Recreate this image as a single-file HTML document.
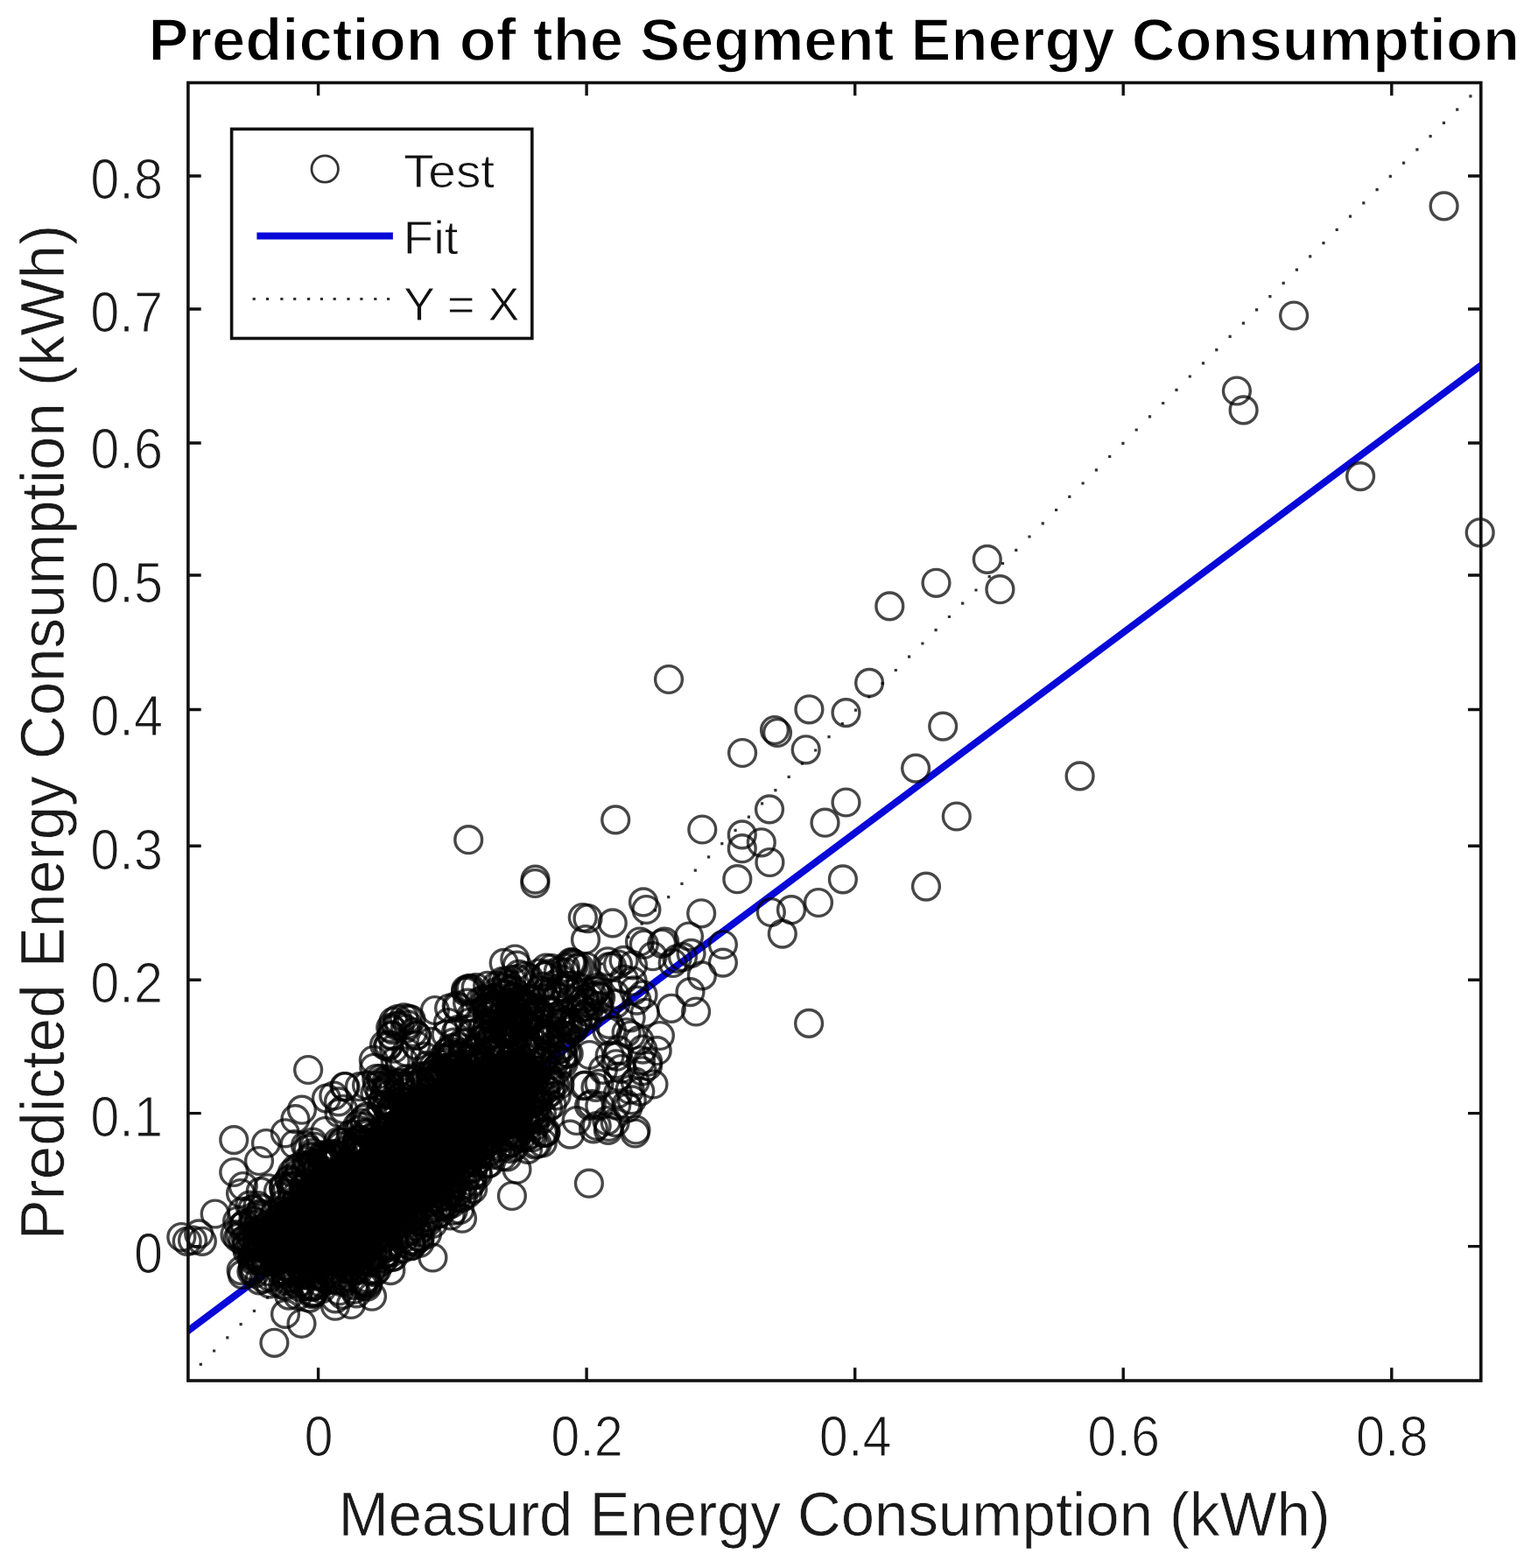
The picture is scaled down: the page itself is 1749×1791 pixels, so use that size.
<!DOCTYPE html>
<html><head><meta charset="utf-8"><title>Prediction of the Segment Energy Consumption</title><style>html,body{margin:0;padding:0;background:#fff;overflow:hidden}svg{display:block}</style></head><body>
<svg width="1749" height="1791" viewBox="0 0 1749 1791">
<rect width="1749" height="1791" fill="#fff"/>
<text x="169.4" y="68.6" font-family="Liberation Sans, Arial, Helvetica, sans-serif" font-weight="bold" font-size="69" fill="#000" stroke="#fff" stroke-width="1.5" textLength="1566.6" lengthAdjust="spacingAndGlyphs">Prediction of the Segment Energy Consumption</text>
<defs><clipPath id="ax"><rect x="214.9" y="94.5" width="1476.9" height="1482.5"/></clipPath></defs>
<g clip-path="url(#ax)">
<path d="M227.7,1556.7h3.2v3.2h-3.2zM243.0,1541.4h3.2v3.2h-3.2zM258.2,1526.2h3.2v3.2h-3.2zM273.5,1511.0h3.2v3.2h-3.2zM288.8,1495.7h3.2v3.2h-3.2zM304.0,1480.5h3.2v3.2h-3.2zM319.3,1465.2h3.2v3.2h-3.2zM334.6,1450.0h3.2v3.2h-3.2zM349.9,1434.7h3.2v3.2h-3.2zM365.1,1419.5h3.2v3.2h-3.2zM380.4,1404.2h3.2v3.2h-3.2zM395.7,1389.0h3.2v3.2h-3.2zM410.9,1373.7h3.2v3.2h-3.2zM426.2,1358.5h3.2v3.2h-3.2zM441.5,1343.2h3.2v3.2h-3.2zM456.7,1328.0h3.2v3.2h-3.2zM472.0,1312.7h3.2v3.2h-3.2zM487.3,1297.5h3.2v3.2h-3.2zM502.6,1282.3h3.2v3.2h-3.2zM517.8,1267.0h3.2v3.2h-3.2zM533.1,1251.8h3.2v3.2h-3.2zM548.4,1236.5h3.2v3.2h-3.2zM563.6,1221.3h3.2v3.2h-3.2zM578.9,1206.0h3.2v3.2h-3.2zM594.2,1190.8h3.2v3.2h-3.2zM609.4,1175.5h3.2v3.2h-3.2zM624.7,1160.3h3.2v3.2h-3.2zM640.0,1145.0h3.2v3.2h-3.2zM655.3,1129.8h3.2v3.2h-3.2zM670.5,1114.5h3.2v3.2h-3.2zM685.8,1099.3h3.2v3.2h-3.2zM701.1,1084.0h3.2v3.2h-3.2zM716.3,1068.8h3.2v3.2h-3.2zM731.6,1053.6h3.2v3.2h-3.2zM746.9,1038.3h3.2v3.2h-3.2zM762.1,1023.1h3.2v3.2h-3.2zM777.4,1007.8h3.2v3.2h-3.2zM792.7,992.6h3.2v3.2h-3.2zM808.0,977.3h3.2v3.2h-3.2zM823.2,962.1h3.2v3.2h-3.2zM838.5,946.8h3.2v3.2h-3.2zM853.8,931.6h3.2v3.2h-3.2zM869.0,916.3h3.2v3.2h-3.2zM884.3,901.1h3.2v3.2h-3.2zM899.6,885.8h3.2v3.2h-3.2zM914.8,870.6h3.2v3.2h-3.2zM930.1,855.4h3.2v3.2h-3.2zM945.4,840.1h3.2v3.2h-3.2zM960.7,824.9h3.2v3.2h-3.2zM975.9,809.6h3.2v3.2h-3.2zM991.2,794.4h3.2v3.2h-3.2zM1006.5,779.1h3.2v3.2h-3.2zM1021.7,763.9h3.2v3.2h-3.2zM1037.0,748.6h3.2v3.2h-3.2zM1052.3,733.4h3.2v3.2h-3.2zM1067.5,718.1h3.2v3.2h-3.2zM1082.8,702.9h3.2v3.2h-3.2zM1098.1,687.6h3.2v3.2h-3.2zM1113.4,672.4h3.2v3.2h-3.2zM1128.6,657.1h3.2v3.2h-3.2zM1143.9,641.9h3.2v3.2h-3.2zM1159.2,626.7h3.2v3.2h-3.2zM1174.4,611.4h3.2v3.2h-3.2zM1189.7,596.2h3.2v3.2h-3.2zM1205.0,580.9h3.2v3.2h-3.2zM1220.2,565.7h3.2v3.2h-3.2zM1235.5,550.4h3.2v3.2h-3.2zM1250.8,535.2h3.2v3.2h-3.2zM1266.1,519.9h3.2v3.2h-3.2zM1281.3,504.7h3.2v3.2h-3.2zM1296.6,489.4h3.2v3.2h-3.2zM1311.9,474.2h3.2v3.2h-3.2zM1327.1,458.9h3.2v3.2h-3.2zM1342.4,443.7h3.2v3.2h-3.2zM1357.7,428.4h3.2v3.2h-3.2zM1372.9,413.2h3.2v3.2h-3.2zM1388.2,398.0h3.2v3.2h-3.2zM1403.5,382.7h3.2v3.2h-3.2zM1418.8,367.5h3.2v3.2h-3.2zM1434.0,352.2h3.2v3.2h-3.2zM1449.3,337.0h3.2v3.2h-3.2zM1464.6,321.7h3.2v3.2h-3.2zM1479.8,306.5h3.2v3.2h-3.2zM1495.1,291.2h3.2v3.2h-3.2zM1510.4,276.0h3.2v3.2h-3.2zM1525.6,260.7h3.2v3.2h-3.2zM1540.9,245.5h3.2v3.2h-3.2zM1556.2,230.2h3.2v3.2h-3.2zM1571.5,215.0h3.2v3.2h-3.2zM1586.7,199.7h3.2v3.2h-3.2zM1602.0,184.5h3.2v3.2h-3.2zM1617.3,169.3h3.2v3.2h-3.2zM1632.5,154.0h3.2v3.2h-3.2zM1647.8,138.8h3.2v3.2h-3.2zM1663.1,123.5h3.2v3.2h-3.2zM1678.3,108.3h3.2v3.2h-3.2z" fill="#333"/>
<line x1="212.9" y1="1521.5" x2="1693.8" y2="416" stroke="#0808d8" stroke-width="8"/>
</g>
<polygon points="307.7,1446.0 320.8,1451.2 347.7,1457.1 375.5,1458.0 400.6,1456.4 406.8,1453.6 409.3,1447.6 409.7,1446.6 410.1,1445.6 411.2,1443.8 411.7,1442.9 412.9,1441.1 413.6,1440.3 415.0,1438.6 415.7,1437.9 417.3,1436.4 418.1,1435.7 418.9,1435.1 457.3,1406.0 467.2,1394.5 467.9,1393.7 468.6,1393.0 470.0,1391.6 470.8,1391.0 472.3,1389.8 473.2,1389.2 474.8,1388.1 475.7,1387.6 476.6,1387.2 495.3,1377.8 515.3,1360.6 524.6,1339.8 525.0,1339.0 525.4,1338.1 526.4,1336.4 526.9,1335.6 528.0,1334.1 528.5,1333.3 529.8,1331.8 530.4,1331.2 531.8,1329.8 532.5,1329.2 533.3,1328.6 553.3,1312.6 554.1,1312.0 554.9,1311.4 556.6,1310.3 557.5,1309.8 559.2,1308.9 560.2,1308.4 562.0,1307.7 563.0,1307.4 564.0,1307.1 599.0,1297.4 604.2,1295.6 605.4,1288.3 605.6,1287.1 605.9,1285.9 606.2,1284.8 614.2,1256.8 614.5,1255.7 614.8,1254.7 615.2,1253.7 624.0,1232.1 624.0,1216.3 612.0,1212.0 590.0,1200.0 585.0,1197.5 584.5,1197.7 555.5,1209.7 554.6,1210.1 553.6,1210.4 551.8,1211.0 550.8,1211.2 548.9,1211.6 547.9,1211.7 546.0,1211.9 545.0,1212.0 544.0,1212.0 522.9,1212.0 497.8,1238.6 497.1,1239.3 496.4,1240.0 494.9,1241.3 494.1,1241.9 492.5,1243.0 491.7,1243.6 490.0,1244.5 489.1,1245.0 487.3,1245.8 486.3,1246.2 484.5,1246.8 483.5,1247.0 481.6,1247.5 480.6,1247.6 478.6,1247.9 477.6,1247.9 476.7,1248.0 451.1,1248.5 448.8,1266.8 448.6,1267.8 448.4,1268.8 448.0,1270.8 447.7,1271.8 447.0,1273.7 446.6,1274.7 445.8,1276.5 445.3,1277.4 444.3,1279.1 443.7,1280.0 442.5,1281.6 441.9,1282.4 440.5,1283.9 439.8,1284.6 438.3,1286.0 437.5,1286.6 435.8,1287.8 435.0,1288.4 433.2,1289.4 432.3,1289.9 431.4,1290.3 426.0,1292.8 424.6,1294.3 423.3,1300.3 423.1,1301.2 422.9,1302.2 422.3,1304.0 421.9,1304.9 421.2,1306.7 420.7,1307.6 419.8,1309.3 419.3,1310.1 418.2,1311.7 417.6,1312.5 416.4,1314.0 415.7,1314.7 414.3,1316.1 413.6,1316.7 412.1,1317.9 411.3,1318.5 409.7,1319.6 408.8,1320.1 407.1,1321.0 406.3,1321.4 404.5,1322.1 403.5,1322.4 401.7,1323.0 400.7,1323.2 398.8,1323.6 397.9,1323.7 395.9,1323.9 395.0,1324.0 394.0,1324.0 364.5,1324.0 364.4,1324.2 364.0,1325.1 363.5,1326.0 354.5,1343.0 354.0,1344.0 353.4,1345.0 352.1,1346.8 351.4,1347.7 350.0,1349.4 349.2,1350.2 348.4,1351.0 334.4,1364.0 333.8,1364.6 333.1,1365.1 331.7,1366.2 331.0,1366.7 329.5,1367.6 328.8,1368.1 328.0,1368.5 317.7,1374.0 314.0,1379.6 313.4,1380.5 312.8,1381.3 311.5,1382.8 310.8,1383.6 309.4,1385.0 308.6,1385.7 307.1,1386.9 306.3,1387.5 304.6,1388.6 303.7,1389.1 301.9,1390.1 301.0,1390.5 299.2,1391.2 298.2,1391.5 297.2,1391.8 293.5,1392.9 293.0,1395.2 293.0,1433.5 307.7,1446.0" fill="#000"/>
<g fill="none" stroke="#000" stroke-opacity="0.72" stroke-width="3.4">
<circle cx="479.9" cy="1369.5" r="15.4"/>
<circle cx="611.6" cy="1254.2" r="15.4"/>
<circle cx="626.7" cy="1156.2" r="15.4"/>
<circle cx="297.7" cy="1361.2" r="15.4"/>
<circle cx="614.7" cy="1222.7" r="15.4"/>
<circle cx="353.1" cy="1342.5" r="15.4"/>
<circle cx="527.7" cy="1207.1" r="15.4"/>
<circle cx="593.9" cy="1218.3" r="15.4"/>
<circle cx="439.1" cy="1425.8" r="15.4"/>
<circle cx="516.0" cy="1353.0" r="15.4"/>
<circle cx="520.8" cy="1345.9" r="15.4"/>
<circle cx="521.1" cy="1217.2" r="15.4"/>
<circle cx="466.3" cy="1392.2" r="15.4"/>
<circle cx="606.6" cy="1251.1" r="15.4"/>
<circle cx="589.9" cy="1135.2" r="15.4"/>
<circle cx="628.1" cy="1154.1" r="15.4"/>
<circle cx="622.2" cy="1139.8" r="15.4"/>
<circle cx="488.2" cy="1396.3" r="15.4"/>
<circle cx="548.6" cy="1308.0" r="15.4"/>
<circle cx="509.6" cy="1215.1" r="15.4"/>
<circle cx="430.9" cy="1430.4" r="15.4"/>
<circle cx="475.6" cy="1382.0" r="15.4"/>
<circle cx="572.4" cy="1219.7" r="15.4"/>
<circle cx="548.4" cy="1311.0" r="15.4"/>
<circle cx="441.3" cy="1425.5" r="15.4"/>
<circle cx="571.7" cy="1161.2" r="15.4"/>
<circle cx="461.3" cy="1414.5" r="15.4"/>
<circle cx="611.0" cy="1256.5" r="15.4"/>
<circle cx="558.9" cy="1328.6" r="15.4"/>
<circle cx="356.9" cy="1476.5" r="15.4"/>
<circle cx="510.0" cy="1202.7" r="15.4"/>
<circle cx="362.5" cy="1334.2" r="15.4"/>
<circle cx="512.1" cy="1338.3" r="15.4"/>
<circle cx="605.2" cy="1161.5" r="15.4"/>
<circle cx="292.2" cy="1434.0" r="15.4"/>
<circle cx="612.8" cy="1171.8" r="15.4"/>
<circle cx="472.5" cy="1379.5" r="15.4"/>
<circle cx="616.1" cy="1111.5" r="15.4"/>
<circle cx="428.4" cy="1248.5" r="15.4"/>
<circle cx="630.3" cy="1106.2" r="15.4"/>
<circle cx="622.3" cy="1115.0" r="15.4"/>
<circle cx="553.6" cy="1186.0" r="15.4"/>
<circle cx="611.1" cy="1307.5" r="15.4"/>
<circle cx="565.2" cy="1295.2" r="15.4"/>
<circle cx="435.8" cy="1441.5" r="15.4"/>
<circle cx="491.8" cy="1390.4" r="15.4"/>
<circle cx="441.3" cy="1263.0" r="15.4"/>
<circle cx="616.3" cy="1156.9" r="15.4"/>
<circle cx="607.2" cy="1215.2" r="15.4"/>
<circle cx="628.9" cy="1247.4" r="15.4"/>
<circle cx="557.8" cy="1182.5" r="15.4"/>
<circle cx="466.5" cy="1241.5" r="15.4"/>
<circle cx="307.4" cy="1416.9" r="15.4"/>
<circle cx="641.2" cy="1169.7" r="15.4"/>
<circle cx="350.3" cy="1326.2" r="15.4"/>
<circle cx="335.1" cy="1349.1" r="15.4"/>
<circle cx="418.7" cy="1315.5" r="15.4"/>
<circle cx="641.5" cy="1118.6" r="15.4"/>
<circle cx="353.8" cy="1331.6" r="15.4"/>
<circle cx="352.0" cy="1330.4" r="15.4"/>
<circle cx="423.9" cy="1328.6" r="15.4"/>
<circle cx="624.4" cy="1132.5" r="15.4"/>
<circle cx="409.1" cy="1335.6" r="15.4"/>
<circle cx="317.9" cy="1465.0" r="15.4"/>
<circle cx="332.8" cy="1356.2" r="15.4"/>
<circle cx="591.5" cy="1215.7" r="15.4"/>
<circle cx="584.0" cy="1164.4" r="15.4"/>
<circle cx="349.3" cy="1370.4" r="15.4"/>
<circle cx="619.8" cy="1305.3" r="15.4"/>
<circle cx="450.6" cy="1418.1" r="15.4"/>
<circle cx="623.8" cy="1181.8" r="15.4"/>
<circle cx="342.3" cy="1333.2" r="15.4"/>
<circle cx="447.7" cy="1272.3" r="15.4"/>
<circle cx="624.1" cy="1182.7" r="15.4"/>
<circle cx="539.9" cy="1309.2" r="15.4"/>
<circle cx="659.2" cy="1168.0" r="15.4"/>
<circle cx="586.3" cy="1196.2" r="15.4"/>
<circle cx="613.7" cy="1306.5" r="15.4"/>
<circle cx="300.2" cy="1388.9" r="15.4"/>
<circle cx="544.4" cy="1327.0" r="15.4"/>
<circle cx="348.9" cy="1356.3" r="15.4"/>
<circle cx="444.3" cy="1250.7" r="15.4"/>
<circle cx="579.5" cy="1321.4" r="15.4"/>
<circle cx="569.0" cy="1181.2" r="15.4"/>
<circle cx="501.6" cy="1251.3" r="15.4"/>
<circle cx="503.8" cy="1352.7" r="15.4"/>
<circle cx="404.3" cy="1468.0" r="15.4"/>
<circle cx="511.5" cy="1240.6" r="15.4"/>
<circle cx="603.0" cy="1312.9" r="15.4"/>
<circle cx="586.7" cy="1188.8" r="15.4"/>
<circle cx="299.1" cy="1380.5" r="15.4"/>
<circle cx="585.4" cy="1130.1" r="15.4"/>
<circle cx="647.3" cy="1202.8" r="15.4"/>
<circle cx="332.9" cy="1459.6" r="15.4"/>
<circle cx="437.8" cy="1433.1" r="15.4"/>
<circle cx="540.8" cy="1199.9" r="15.4"/>
<circle cx="386.1" cy="1304.3" r="15.4"/>
<circle cx="356.7" cy="1478.2" r="15.4"/>
<circle cx="633.5" cy="1238.4" r="15.4"/>
<circle cx="599.4" cy="1171.0" r="15.4"/>
<circle cx="502.8" cy="1377.3" r="15.4"/>
<circle cx="581.8" cy="1156.2" r="15.4"/>
<circle cx="306.2" cy="1357.3" r="15.4"/>
<circle cx="289.4" cy="1446.5" r="15.4"/>
<circle cx="440.2" cy="1247.2" r="15.4"/>
<circle cx="529.7" cy="1330.0" r="15.4"/>
<circle cx="526.1" cy="1339.6" r="15.4"/>
<circle cx="597.6" cy="1215.7" r="15.4"/>
<circle cx="348.7" cy="1447.7" r="15.4"/>
<circle cx="660.6" cy="1164.2" r="15.4"/>
<circle cx="621.8" cy="1293.9" r="15.4"/>
<circle cx="644.9" cy="1129.7" r="15.4"/>
<circle cx="425.0" cy="1451.6" r="15.4"/>
<circle cx="335.1" cy="1354.8" r="15.4"/>
<circle cx="592.5" cy="1164.7" r="15.4"/>
<circle cx="370.6" cy="1343.3" r="15.4"/>
<circle cx="580.6" cy="1181.4" r="15.4"/>
<circle cx="373.7" cy="1461.9" r="15.4"/>
<circle cx="411.7" cy="1282.5" r="15.4"/>
<circle cx="599.5" cy="1114.8" r="15.4"/>
<circle cx="406.4" cy="1313.8" r="15.4"/>
<circle cx="287.9" cy="1425.2" r="15.4"/>
<circle cx="492.3" cy="1256.8" r="15.4"/>
<circle cx="598.2" cy="1191.6" r="15.4"/>
<circle cx="445.1" cy="1287.8" r="15.4"/>
<circle cx="445.7" cy="1276.3" r="15.4"/>
<circle cx="645.8" cy="1105.2" r="15.4"/>
<circle cx="503.5" cy="1253.9" r="15.4"/>
<circle cx="524.2" cy="1216.6" r="15.4"/>
<circle cx="488.0" cy="1409.6" r="15.4"/>
<circle cx="626.1" cy="1265.2" r="15.4"/>
<circle cx="619.0" cy="1271.8" r="15.4"/>
<circle cx="419.7" cy="1275.0" r="15.4"/>
<circle cx="562.1" cy="1319.2" r="15.4"/>
<circle cx="424.7" cy="1420.6" r="15.4"/>
<circle cx="599.7" cy="1151.3" r="15.4"/>
<circle cx="405.8" cy="1338.2" r="15.4"/>
<circle cx="577.5" cy="1180.8" r="15.4"/>
<circle cx="538.1" cy="1324.2" r="15.4"/>
<circle cx="505.4" cy="1224.5" r="15.4"/>
<circle cx="281.3" cy="1423.0" r="15.4"/>
<circle cx="292.7" cy="1414.5" r="15.4"/>
<circle cx="376.7" cy="1455.3" r="15.4"/>
<circle cx="412.2" cy="1424.4" r="15.4"/>
<circle cx="456.7" cy="1241.0" r="15.4"/>
<circle cx="385.8" cy="1461.7" r="15.4"/>
<circle cx="493.2" cy="1233.9" r="15.4"/>
<circle cx="439.1" cy="1291.8" r="15.4"/>
<circle cx="362.6" cy="1335.7" r="15.4"/>
<circle cx="469.6" cy="1422.8" r="15.4"/>
<circle cx="350.7" cy="1365.9" r="15.4"/>
<circle cx="271.8" cy="1413.9" r="15.4"/>
<circle cx="623.5" cy="1245.0" r="15.4"/>
<circle cx="396.2" cy="1328.1" r="15.4"/>
<circle cx="596.8" cy="1171.1" r="15.4"/>
<circle cx="349.2" cy="1334.8" r="15.4"/>
<circle cx="516.7" cy="1356.0" r="15.4"/>
<circle cx="348.8" cy="1442.8" r="15.4"/>
<circle cx="358.8" cy="1475.2" r="15.4"/>
<circle cx="376.6" cy="1448.1" r="15.4"/>
<circle cx="320.1" cy="1436.5" r="15.4"/>
<circle cx="353.6" cy="1482.6" r="15.4"/>
<circle cx="485.8" cy="1229.0" r="15.4"/>
<circle cx="294.9" cy="1397.7" r="15.4"/>
<circle cx="312.5" cy="1428.1" r="15.4"/>
<circle cx="487.8" cy="1217.0" r="15.4"/>
<circle cx="325.5" cy="1363.0" r="15.4"/>
<circle cx="600.8" cy="1187.9" r="15.4"/>
<circle cx="437.7" cy="1257.0" r="15.4"/>
<circle cx="592.0" cy="1218.5" r="15.4"/>
<circle cx="484.4" cy="1258.6" r="15.4"/>
<circle cx="457.8" cy="1286.3" r="15.4"/>
<circle cx="457.6" cy="1243.4" r="15.4"/>
<circle cx="611.6" cy="1192.2" r="15.4"/>
<circle cx="330.1" cy="1479.6" r="15.4"/>
<circle cx="560.7" cy="1205.2" r="15.4"/>
<circle cx="598.1" cy="1194.3" r="15.4"/>
<circle cx="657.6" cy="1171.0" r="15.4"/>
<circle cx="514.6" cy="1346.1" r="15.4"/>
<circle cx="450.4" cy="1267.7" r="15.4"/>
<circle cx="339.7" cy="1466.4" r="15.4"/>
<circle cx="659.0" cy="1105.6" r="15.4"/>
<circle cx="386.3" cy="1338.5" r="15.4"/>
<circle cx="288.8" cy="1450.2" r="15.4"/>
<circle cx="575.0" cy="1298.2" r="15.4"/>
<circle cx="425.7" cy="1299.8" r="15.4"/>
<circle cx="327.5" cy="1460.2" r="15.4"/>
<circle cx="457.6" cy="1252.8" r="15.4"/>
<circle cx="645.7" cy="1110.7" r="15.4"/>
<circle cx="386.1" cy="1457.2" r="15.4"/>
<circle cx="525.4" cy="1334.2" r="15.4"/>
<circle cx="399.4" cy="1332.2" r="15.4"/>
<circle cx="324.1" cy="1357.4" r="15.4"/>
<circle cx="422.1" cy="1440.4" r="15.4"/>
<circle cx="586.2" cy="1159.5" r="15.4"/>
<circle cx="587.4" cy="1295.1" r="15.4"/>
<circle cx="476.1" cy="1247.0" r="15.4"/>
<circle cx="483.9" cy="1248.7" r="15.4"/>
<circle cx="298.0" cy="1421.5" r="15.4"/>
<circle cx="543.6" cy="1201.1" r="15.4"/>
<circle cx="326.7" cy="1451.6" r="15.4"/>
<circle cx="508.0" cy="1227.3" r="15.4"/>
<circle cx="470.9" cy="1395.9" r="15.4"/>
<circle cx="461.7" cy="1379.6" r="15.4"/>
<circle cx="515.7" cy="1374.8" r="15.4"/>
<circle cx="624.6" cy="1205.6" r="15.4"/>
<circle cx="470.0" cy="1235.2" r="15.4"/>
<circle cx="567.9" cy="1144.3" r="15.4"/>
<circle cx="610.2" cy="1273.6" r="15.4"/>
<circle cx="414.7" cy="1468.8" r="15.4"/>
<circle cx="304.1" cy="1421.3" r="15.4"/>
<circle cx="355.9" cy="1320.8" r="15.4"/>
<circle cx="608.1" cy="1226.1" r="15.4"/>
<circle cx="406.9" cy="1450.6" r="15.4"/>
<circle cx="550.5" cy="1188.5" r="15.4"/>
<circle cx="282.7" cy="1429.3" r="15.4"/>
<circle cx="344.6" cy="1464.2" r="15.4"/>
<circle cx="295.2" cy="1433.4" r="15.4"/>
<circle cx="494.8" cy="1259.9" r="15.4"/>
<circle cx="396.8" cy="1450.0" r="15.4"/>
<circle cx="437.1" cy="1307.0" r="15.4"/>
<circle cx="448.9" cy="1279.0" r="15.4"/>
<circle cx="415.9" cy="1278.2" r="15.4"/>
<circle cx="611.1" cy="1179.5" r="15.4"/>
<circle cx="623.6" cy="1114.7" r="15.4"/>
<circle cx="597.0" cy="1211.3" r="15.4"/>
<circle cx="408.4" cy="1285.5" r="15.4"/>
<circle cx="637.9" cy="1109.4" r="15.4"/>
<circle cx="474.6" cy="1401.6" r="15.4"/>
<circle cx="466.5" cy="1406.6" r="15.4"/>
<circle cx="560.2" cy="1220.7" r="15.4"/>
<circle cx="574.2" cy="1120.8" r="15.4"/>
<circle cx="441.9" cy="1430.9" r="15.4"/>
<circle cx="532.9" cy="1218.7" r="15.4"/>
<circle cx="587.3" cy="1309.9" r="15.4"/>
<circle cx="290.6" cy="1395.2" r="15.4"/>
<circle cx="476.9" cy="1262.8" r="15.4"/>
<circle cx="579.8" cy="1180.3" r="15.4"/>
<circle cx="372.0" cy="1321.4" r="15.4"/>
<circle cx="610.6" cy="1286.3" r="15.4"/>
<circle cx="439.2" cy="1437.8" r="15.4"/>
<circle cx="521.9" cy="1362.3" r="15.4"/>
<circle cx="371.3" cy="1344.9" r="15.4"/>
<circle cx="552.6" cy="1214.6" r="15.4"/>
<circle cx="282.4" cy="1419.7" r="15.4"/>
<circle cx="605.9" cy="1198.1" r="15.4"/>
<circle cx="540.5" cy="1334.1" r="15.4"/>
<circle cx="420.4" cy="1328.7" r="15.4"/>
<circle cx="506.2" cy="1376.4" r="15.4"/>
<circle cx="377.8" cy="1330.9" r="15.4"/>
<circle cx="529.5" cy="1352.8" r="15.4"/>
<circle cx="535.6" cy="1208.1" r="15.4"/>
<circle cx="573.2" cy="1172.7" r="15.4"/>
<circle cx="448.5" cy="1404.5" r="15.4"/>
<circle cx="546.3" cy="1319.3" r="15.4"/>
<circle cx="485.6" cy="1235.5" r="15.4"/>
<circle cx="671.9" cy="1156.0" r="15.4"/>
<circle cx="276.8" cy="1455.9" r="15.4"/>
<circle cx="662.7" cy="1128.2" r="15.4"/>
<circle cx="449.1" cy="1263.6" r="15.4"/>
<circle cx="366.6" cy="1350.8" r="15.4"/>
<circle cx="359.4" cy="1456.5" r="15.4"/>
<circle cx="637.3" cy="1199.2" r="15.4"/>
<circle cx="368.1" cy="1336.5" r="15.4"/>
<circle cx="572.7" cy="1178.0" r="15.4"/>
<circle cx="498.9" cy="1387.2" r="15.4"/>
<circle cx="476.2" cy="1253.7" r="15.4"/>
<circle cx="389.6" cy="1309.0" r="15.4"/>
<circle cx="426.3" cy="1418.0" r="15.4"/>
<circle cx="305.7" cy="1400.1" r="15.4"/>
<circle cx="443.0" cy="1422.8" r="15.4"/>
<circle cx="598.0" cy="1146.6" r="15.4"/>
<circle cx="612.0" cy="1181.0" r="15.4"/>
<circle cx="511.6" cy="1362.0" r="15.4"/>
<circle cx="573.9" cy="1321.0" r="15.4"/>
<circle cx="535.5" cy="1319.7" r="15.4"/>
<circle cx="454.6" cy="1274.5" r="15.4"/>
<circle cx="388.1" cy="1442.9" r="15.4"/>
<circle cx="420.2" cy="1296.1" r="15.4"/>
<circle cx="519.9" cy="1335.9" r="15.4"/>
<circle cx="377.3" cy="1320.6" r="15.4"/>
<circle cx="463.3" cy="1232.9" r="15.4"/>
<circle cx="558.3" cy="1203.9" r="15.4"/>
<circle cx="404.9" cy="1449.8" r="15.4"/>
<circle cx="594.4" cy="1146.4" r="15.4"/>
<circle cx="626.1" cy="1233.7" r="15.4"/>
<circle cx="562.2" cy="1181.4" r="15.4"/>
<circle cx="477.7" cy="1382.1" r="15.4"/>
<circle cx="607.4" cy="1148.2" r="15.4"/>
<circle cx="592.8" cy="1112.9" r="15.4"/>
<circle cx="425.4" cy="1441.9" r="15.4"/>
<circle cx="317.9" cy="1360.5" r="15.4"/>
<circle cx="288.7" cy="1413.7" r="15.4"/>
<circle cx="586.5" cy="1151.1" r="15.4"/>
<circle cx="428.5" cy="1410.1" r="15.4"/>
<circle cx="485.4" cy="1259.2" r="15.4"/>
<circle cx="540.2" cy="1358.1" r="15.4"/>
<circle cx="608.2" cy="1299.2" r="15.4"/>
<circle cx="461.1" cy="1274.3" r="15.4"/>
<circle cx="367.2" cy="1472.4" r="15.4"/>
<circle cx="640.0" cy="1168.0" r="15.4"/>
<circle cx="532.4" cy="1343.9" r="15.4"/>
<circle cx="471.7" cy="1239.4" r="15.4"/>
<circle cx="566.0" cy="1199.5" r="15.4"/>
<circle cx="333.8" cy="1339.5" r="15.4"/>
<circle cx="364.7" cy="1353.6" r="15.4"/>
<circle cx="495.6" cy="1227.8" r="15.4"/>
<circle cx="420.8" cy="1418.8" r="15.4"/>
<circle cx="341.5" cy="1339.8" r="15.4"/>
<circle cx="430.2" cy="1232.0" r="15.4"/>
<circle cx="442.1" cy="1233.3" r="15.4"/>
<circle cx="338.1" cy="1334.7" r="15.4"/>
<circle cx="537.2" cy="1353.5" r="15.4"/>
<circle cx="454.5" cy="1289.9" r="15.4"/>
<circle cx="629.0" cy="1233.5" r="15.4"/>
<circle cx="617.3" cy="1232.9" r="15.4"/>
<circle cx="289.1" cy="1393.9" r="15.4"/>
<circle cx="526.7" cy="1368.7" r="15.4"/>
<circle cx="336.2" cy="1350.4" r="15.4"/>
<circle cx="288.0" cy="1381.4" r="15.4"/>
<circle cx="447.7" cy="1435.8" r="15.4"/>
<circle cx="605.0" cy="1207.3" r="15.4"/>
<circle cx="514.9" cy="1220.0" r="15.4"/>
<circle cx="411.3" cy="1313.2" r="15.4"/>
<circle cx="591.0" cy="1118.2" r="15.4"/>
<circle cx="296.2" cy="1462.4" r="15.4"/>
<circle cx="427.8" cy="1453.1" r="15.4"/>
<circle cx="318.5" cy="1436.5" r="15.4"/>
<circle cx="408.7" cy="1425.8" r="15.4"/>
<circle cx="514.6" cy="1388.5" r="15.4"/>
<circle cx="449.5" cy="1435.5" r="15.4"/>
<circle cx="434.3" cy="1293.2" r="15.4"/>
<circle cx="483.1" cy="1258.6" r="15.4"/>
<circle cx="347.0" cy="1356.0" r="15.4"/>
<circle cx="529.1" cy="1366.4" r="15.4"/>
<circle cx="576.9" cy="1290.8" r="15.4"/>
<circle cx="599.4" cy="1168.8" r="15.4"/>
<circle cx="684.4" cy="1138.1" r="15.4"/>
<circle cx="446.3" cy="1451.1" r="15.4"/>
<circle cx="682.5" cy="1128.1" r="15.4"/>
<circle cx="431.2" cy="1426.8" r="15.4"/>
<circle cx="606.9" cy="1150.3" r="15.4"/>
<circle cx="391.2" cy="1478.9" r="15.4"/>
<circle cx="424.0" cy="1450.4" r="15.4"/>
<circle cx="442.2" cy="1280.1" r="15.4"/>
<circle cx="601.0" cy="1298.8" r="15.4"/>
<circle cx="487.9" cy="1258.2" r="15.4"/>
<circle cx="356.6" cy="1334.3" r="15.4"/>
<circle cx="288.9" cy="1399.3" r="15.4"/>
<circle cx="363.8" cy="1457.8" r="15.4"/>
<circle cx="392.5" cy="1331.0" r="15.4"/>
<circle cx="371.5" cy="1326.9" r="15.4"/>
<circle cx="518.0" cy="1330.3" r="15.4"/>
<circle cx="382.5" cy="1318.7" r="15.4"/>
<circle cx="608.4" cy="1259.8" r="15.4"/>
<circle cx="442.9" cy="1299.8" r="15.4"/>
<circle cx="669.3" cy="1149.7" r="15.4"/>
<circle cx="483.0" cy="1256.9" r="15.4"/>
<circle cx="528.8" cy="1202.7" r="15.4"/>
<circle cx="497.1" cy="1237.9" r="15.4"/>
<circle cx="383.2" cy="1483.3" r="15.4"/>
<circle cx="411.0" cy="1301.6" r="15.4"/>
<circle cx="499.8" cy="1363.4" r="15.4"/>
<circle cx="359.5" cy="1328.8" r="15.4"/>
<circle cx="558.1" cy="1193.2" r="15.4"/>
<circle cx="326.2" cy="1455.7" r="15.4"/>
<circle cx="405.6" cy="1425.5" r="15.4"/>
<circle cx="598.1" cy="1254.6" r="15.4"/>
<circle cx="445.8" cy="1423.0" r="15.4"/>
<circle cx="420.4" cy="1466.1" r="15.4"/>
<circle cx="402.3" cy="1304.9" r="15.4"/>
<circle cx="576.7" cy="1298.8" r="15.4"/>
<circle cx="605.1" cy="1150.3" r="15.4"/>
<circle cx="516.3" cy="1204.6" r="15.4"/>
<circle cx="684.5" cy="1148.8" r="15.4"/>
<circle cx="643.0" cy="1205.1" r="15.4"/>
<circle cx="358.9" cy="1468.7" r="15.4"/>
<circle cx="483.5" cy="1396.0" r="15.4"/>
<circle cx="389.9" cy="1305.1" r="15.4"/>
<circle cx="322.8" cy="1388.6" r="15.4"/>
<circle cx="455.0" cy="1237.7" r="15.4"/>
<circle cx="307.2" cy="1452.2" r="15.4"/>
<circle cx="469.9" cy="1423.2" r="15.4"/>
<circle cx="545.9" cy="1298.9" r="15.4"/>
<circle cx="330.6" cy="1448.8" r="15.4"/>
<circle cx="641.4" cy="1195.3" r="15.4"/>
<circle cx="421.4" cy="1325.3" r="15.4"/>
<circle cx="587.6" cy="1169.2" r="15.4"/>
<circle cx="303.7" cy="1403.8" r="15.4"/>
<circle cx="341.1" cy="1444.0" r="15.4"/>
<circle cx="297.6" cy="1410.2" r="15.4"/>
<circle cx="478.1" cy="1412.6" r="15.4"/>
<circle cx="512.3" cy="1365.9" r="15.4"/>
<circle cx="588.0" cy="1301.9" r="15.4"/>
<circle cx="619.2" cy="1126.9" r="15.4"/>
<circle cx="375.1" cy="1445.4" r="15.4"/>
<circle cx="322.1" cy="1383.5" r="15.4"/>
<circle cx="339.0" cy="1370.6" r="15.4"/>
<circle cx="417.9" cy="1426.6" r="15.4"/>
<circle cx="306.7" cy="1440.5" r="15.4"/>
<circle cx="365.9" cy="1464.7" r="15.4"/>
<circle cx="293.0" cy="1432.7" r="15.4"/>
<circle cx="351.3" cy="1371.2" r="15.4"/>
<circle cx="662.3" cy="1137.9" r="15.4"/>
<circle cx="577.8" cy="1150.5" r="15.4"/>
<circle cx="414.8" cy="1464.4" r="15.4"/>
<circle cx="508.6" cy="1366.6" r="15.4"/>
<circle cx="542.3" cy="1223.2" r="15.4"/>
<circle cx="470.8" cy="1262.3" r="15.4"/>
<circle cx="330.6" cy="1346.7" r="15.4"/>
<circle cx="593.2" cy="1293.5" r="15.4"/>
<circle cx="408.2" cy="1302.0" r="15.4"/>
<circle cx="324.8" cy="1446.1" r="15.4"/>
<circle cx="430.9" cy="1239.8" r="15.4"/>
<circle cx="490.5" cy="1373.5" r="15.4"/>
<circle cx="469.4" cy="1383.1" r="15.4"/>
<circle cx="392.4" cy="1334.0" r="15.4"/>
<circle cx="553.5" cy="1223.0" r="15.4"/>
<circle cx="374.6" cy="1319.1" r="15.4"/>
<circle cx="425.3" cy="1434.1" r="15.4"/>
<circle cx="313.4" cy="1387.8" r="15.4"/>
<circle cx="276.2" cy="1401.0" r="15.4"/>
<circle cx="487.5" cy="1390.0" r="15.4"/>
<circle cx="606.5" cy="1271.8" r="15.4"/>
<circle cx="410.7" cy="1291.2" r="15.4"/>
<circle cx="327.0" cy="1452.5" r="15.4"/>
<circle cx="576.7" cy="1173.7" r="15.4"/>
<circle cx="662.1" cy="1104.9" r="15.4"/>
<circle cx="533.8" cy="1337.5" r="15.4"/>
<circle cx="613.5" cy="1273.6" r="15.4"/>
<circle cx="333.4" cy="1437.0" r="15.4"/>
<circle cx="663.3" cy="1151.6" r="15.4"/>
<circle cx="493.0" cy="1259.0" r="15.4"/>
<circle cx="498.7" cy="1369.3" r="15.4"/>
<circle cx="541.1" cy="1220.9" r="15.4"/>
<circle cx="268.5" cy="1410.2" r="15.4"/>
<circle cx="548.5" cy="1316.2" r="15.4"/>
<circle cx="420.0" cy="1413.7" r="15.4"/>
<circle cx="405.0" cy="1315.2" r="15.4"/>
<circle cx="547.6" cy="1316.0" r="15.4"/>
<circle cx="499.8" cy="1219.8" r="15.4"/>
<circle cx="354.6" cy="1447.6" r="15.4"/>
<circle cx="357.0" cy="1317.1" r="15.4"/>
<circle cx="558.9" cy="1190.3" r="15.4"/>
<circle cx="434.5" cy="1408.6" r="15.4"/>
<circle cx="630.0" cy="1240.4" r="15.4"/>
<circle cx="583.9" cy="1312.2" r="15.4"/>
<circle cx="390.2" cy="1304.8" r="15.4"/>
<circle cx="494.9" cy="1218.5" r="15.4"/>
<circle cx="603.8" cy="1160.1" r="15.4"/>
<circle cx="274.4" cy="1411.0" r="15.4"/>
<circle cx="636.4" cy="1222.2" r="15.4"/>
<circle cx="442.9" cy="1396.3" r="15.4"/>
<circle cx="275.6" cy="1451.1" r="15.4"/>
<circle cx="642.5" cy="1183.5" r="15.4"/>
<circle cx="612.0" cy="1158.3" r="15.4"/>
<circle cx="418.7" cy="1464.9" r="15.4"/>
<circle cx="419.0" cy="1239.6" r="15.4"/>
<circle cx="544.8" cy="1218.3" r="15.4"/>
<circle cx="463.9" cy="1421.0" r="15.4"/>
<circle cx="498.9" cy="1220.4" r="15.4"/>
<circle cx="607.6" cy="1260.4" r="15.4"/>
<circle cx="525.2" cy="1381.9" r="15.4"/>
<circle cx="505.5" cy="1220.1" r="15.4"/>
<circle cx="453.9" cy="1285.9" r="15.4"/>
<circle cx="607.7" cy="1141.0" r="15.4"/>
<circle cx="612.2" cy="1202.5" r="15.4"/>
<circle cx="602.9" cy="1240.5" r="15.4"/>
<circle cx="626.0" cy="1112.4" r="15.4"/>
<circle cx="618.6" cy="1211.1" r="15.4"/>
<circle cx="504.0" cy="1346.7" r="15.4"/>
<circle cx="473.0" cy="1390.3" r="15.4"/>
<circle cx="530.5" cy="1215.6" r="15.4"/>
<circle cx="558.7" cy="1314.7" r="15.4"/>
<circle cx="471.9" cy="1388.5" r="15.4"/>
<circle cx="525.8" cy="1319.0" r="15.4"/>
<circle cx="504.3" cy="1223.3" r="15.4"/>
<circle cx="606.2" cy="1243.5" r="15.4"/>
<circle cx="291.0" cy="1454.6" r="15.4"/>
<circle cx="351.7" cy="1312.6" r="15.4"/>
<circle cx="349.2" cy="1353.4" r="15.4"/>
<circle cx="424.7" cy="1280.8" r="15.4"/>
<circle cx="540.8" cy="1319.4" r="15.4"/>
<circle cx="667.4" cy="1140.8" r="15.4"/>
<circle cx="514.5" cy="1236.2" r="15.4"/>
<circle cx="596.9" cy="1277.7" r="15.4"/>
<circle cx="556.1" cy="1151.2" r="15.4"/>
<circle cx="653.7" cy="1099.7" r="15.4"/>
<circle cx="540.2" cy="1342.4" r="15.4"/>
<circle cx="568.7" cy="1291.7" r="15.4"/>
<circle cx="651.6" cy="1142.9" r="15.4"/>
<circle cx="522.8" cy="1230.9" r="15.4"/>
<circle cx="492.4" cy="1238.3" r="15.4"/>
<circle cx="642.3" cy="1211.6" r="15.4"/>
<circle cx="443.7" cy="1237.0" r="15.4"/>
<circle cx="434.8" cy="1304.4" r="15.4"/>
<circle cx="458.1" cy="1281.5" r="15.4"/>
<circle cx="514.0" cy="1218.3" r="15.4"/>
<circle cx="607.7" cy="1226.3" r="15.4"/>
<circle cx="443.5" cy="1289.2" r="15.4"/>
<circle cx="611.8" cy="1201.3" r="15.4"/>
<circle cx="513.2" cy="1330.1" r="15.4"/>
<circle cx="604.8" cy="1166.3" r="15.4"/>
<circle cx="339.9" cy="1363.4" r="15.4"/>
<circle cx="611.7" cy="1278.5" r="15.4"/>
<circle cx="588.4" cy="1298.3" r="15.4"/>
<circle cx="485.6" cy="1262.6" r="15.4"/>
<circle cx="335.6" cy="1438.3" r="15.4"/>
<circle cx="376.5" cy="1451.0" r="15.4"/>
<circle cx="647.2" cy="1130.2" r="15.4"/>
<circle cx="512.9" cy="1208.2" r="15.4"/>
<circle cx="440.5" cy="1432.4" r="15.4"/>
<circle cx="308.8" cy="1427.7" r="15.4"/>
<circle cx="522.4" cy="1367.6" r="15.4"/>
<circle cx="455.8" cy="1282.1" r="15.4"/>
<circle cx="682.5" cy="1136.2" r="15.4"/>
<circle cx="623.6" cy="1292.7" r="15.4"/>
<circle cx="393.8" cy="1319.5" r="15.4"/>
<circle cx="628.3" cy="1153.5" r="15.4"/>
<circle cx="634.9" cy="1207.6" r="15.4"/>
<circle cx="562.1" cy="1191.2" r="15.4"/>
<circle cx="627.4" cy="1173.8" r="15.4"/>
<circle cx="593.6" cy="1272.3" r="15.4"/>
<circle cx="645.2" cy="1167.5" r="15.4"/>
<circle cx="517.7" cy="1382.7" r="15.4"/>
<circle cx="512.9" cy="1208.5" r="15.4"/>
<circle cx="297.7" cy="1424.9" r="15.4"/>
<circle cx="515.7" cy="1361.2" r="15.4"/>
<circle cx="295.2" cy="1422.2" r="15.4"/>
<circle cx="635.0" cy="1181.4" r="15.4"/>
<circle cx="348.5" cy="1447.5" r="15.4"/>
<circle cx="683.5" cy="1149.5" r="15.4"/>
<circle cx="400.9" cy="1295.5" r="15.4"/>
<circle cx="373.0" cy="1461.6" r="15.4"/>
<circle cx="585.5" cy="1156.1" r="15.4"/>
<circle cx="394.5" cy="1441.9" r="15.4"/>
<circle cx="611.7" cy="1170.5" r="15.4"/>
<circle cx="537.0" cy="1226.7" r="15.4"/>
<circle cx="620.1" cy="1294.0" r="15.4"/>
<circle cx="648.1" cy="1167.8" r="15.4"/>
<circle cx="643.6" cy="1214.7" r="15.4"/>
<circle cx="440.5" cy="1413.9" r="15.4"/>
<circle cx="567.6" cy="1190.4" r="15.4"/>
<circle cx="539.0" cy="1313.4" r="15.4"/>
<circle cx="426.3" cy="1434.1" r="15.4"/>
<circle cx="650.1" cy="1125.8" r="15.4"/>
<circle cx="461.1" cy="1248.1" r="15.4"/>
<circle cx="378.5" cy="1461.7" r="15.4"/>
<circle cx="443.0" cy="1289.5" r="15.4"/>
<circle cx="546.1" cy="1341.8" r="15.4"/>
<circle cx="626.8" cy="1187.0" r="15.4"/>
<circle cx="477.5" cy="1407.0" r="15.4"/>
<circle cx="582.8" cy="1305.0" r="15.4"/>
<circle cx="655.3" cy="1125.5" r="15.4"/>
<circle cx="649.7" cy="1171.5" r="15.4"/>
<circle cx="374.5" cy="1325.9" r="15.4"/>
<circle cx="576.4" cy="1180.2" r="15.4"/>
<circle cx="404.6" cy="1472.7" r="15.4"/>
<circle cx="622.0" cy="1242.0" r="15.4"/>
<circle cx="396.0" cy="1440.7" r="15.4"/>
<circle cx="336.5" cy="1454.2" r="15.4"/>
<circle cx="348.5" cy="1367.7" r="15.4"/>
<circle cx="636.6" cy="1138.0" r="15.4"/>
<circle cx="297.6" cy="1407.4" r="15.4"/>
<circle cx="559.6" cy="1150.3" r="15.4"/>
<circle cx="483.0" cy="1259.3" r="15.4"/>
<circle cx="356.3" cy="1358.8" r="15.4"/>
<circle cx="460.1" cy="1396.3" r="15.4"/>
<circle cx="337.6" cy="1353.6" r="15.4"/>
<circle cx="340.0" cy="1457.7" r="15.4"/>
<circle cx="686.2" cy="1139.3" r="15.4"/>
<circle cx="369.1" cy="1322.3" r="15.4"/>
<circle cx="652.3" cy="1099.1" r="15.4"/>
<circle cx="600.2" cy="1275.7" r="15.4"/>
<circle cx="412.4" cy="1307.4" r="15.4"/>
<circle cx="632.4" cy="1216.1" r="15.4"/>
<circle cx="506.6" cy="1376.3" r="15.4"/>
<circle cx="353.3" cy="1469.1" r="15.4"/>
<circle cx="347.2" cy="1364.6" r="15.4"/>
<circle cx="620.1" cy="1213.6" r="15.4"/>
<circle cx="481.0" cy="1403.1" r="15.4"/>
<circle cx="680.9" cy="1131.3" r="15.4"/>
<circle cx="547.9" cy="1143.8" r="15.4"/>
<circle cx="416.2" cy="1286.8" r="15.4"/>
<circle cx="480.4" cy="1237.8" r="15.4"/>
<circle cx="404.2" cy="1310.9" r="15.4"/>
<circle cx="324.4" cy="1354.7" r="15.4"/>
<circle cx="297.2" cy="1439.3" r="15.4"/>
<circle cx="396.9" cy="1313.6" r="15.4"/>
<circle cx="500.2" cy="1378.8" r="15.4"/>
<circle cx="427.8" cy="1416.2" r="15.4"/>
<circle cx="587.7" cy="1295.4" r="15.4"/>
<circle cx="501.4" cy="1227.1" r="15.4"/>
<circle cx="509.1" cy="1250.9" r="15.4"/>
<circle cx="444.2" cy="1239.3" r="15.4"/>
<circle cx="408.5" cy="1320.0" r="15.4"/>
<circle cx="590.0" cy="1177.1" r="15.4"/>
<circle cx="308.9" cy="1459.0" r="15.4"/>
<circle cx="430.3" cy="1450.5" r="15.4"/>
<circle cx="512.6" cy="1200.5" r="15.4"/>
<circle cx="426.7" cy="1297.8" r="15.4"/>
<circle cx="288.2" cy="1439.2" r="15.4"/>
<circle cx="596.9" cy="1166.2" r="15.4"/>
<circle cx="446.2" cy="1241.5" r="15.4"/>
<circle cx="419.2" cy="1294.3" r="15.4"/>
<circle cx="605.4" cy="1256.4" r="15.4"/>
<circle cx="533.1" cy="1325.3" r="15.4"/>
<circle cx="477.1" cy="1261.5" r="15.4"/>
<circle cx="513.9" cy="1360.6" r="15.4"/>
<circle cx="352.7" cy="1364.9" r="15.4"/>
<circle cx="502.2" cy="1227.7" r="15.4"/>
<circle cx="414.9" cy="1423.5" r="15.4"/>
<circle cx="584.3" cy="1293.5" r="15.4"/>
<circle cx="640.2" cy="1164.6" r="15.4"/>
<circle cx="579.0" cy="1203.3" r="15.4"/>
<circle cx="349.0" cy="1308.4" r="15.4"/>
<circle cx="319.4" cy="1437.0" r="15.4"/>
<circle cx="642.6" cy="1158.1" r="15.4"/>
<circle cx="642.0" cy="1197.8" r="15.4"/>
<circle cx="309.8" cy="1408.6" r="15.4"/>
<circle cx="419.1" cy="1441.6" r="15.4"/>
<circle cx="613.0" cy="1154.2" r="15.4"/>
<circle cx="609.6" cy="1270.0" r="15.4"/>
<circle cx="629.7" cy="1199.2" r="15.4"/>
<circle cx="407.3" cy="1477.4" r="15.4"/>
<circle cx="418.8" cy="1459.9" r="15.4"/>
<circle cx="460.6" cy="1410.1" r="15.4"/>
<circle cx="664.1" cy="1151.0" r="15.4"/>
<circle cx="649.7" cy="1203.3" r="15.4"/>
<circle cx="602.8" cy="1141.2" r="15.4"/>
<circle cx="440.8" cy="1293.5" r="15.4"/>
<circle cx="645.6" cy="1182.7" r="15.4"/>
<circle cx="614.3" cy="1260.4" r="15.4"/>
<circle cx="622.9" cy="1206.8" r="15.4"/>
<circle cx="406.7" cy="1321.7" r="15.4"/>
<circle cx="355.1" cy="1322.3" r="15.4"/>
<circle cx="424.4" cy="1439.8" r="15.4"/>
<circle cx="409.8" cy="1450.9" r="15.4"/>
<circle cx="630.9" cy="1134.0" r="15.4"/>
<circle cx="340.2" cy="1479.8" r="15.4"/>
<circle cx="435.7" cy="1266.2" r="15.4"/>
<circle cx="462.0" cy="1276.4" r="15.4"/>
<circle cx="616.6" cy="1130.8" r="15.4"/>
<circle cx="302.3" cy="1412.0" r="15.4"/>
<circle cx="524.3" cy="1323.3" r="15.4"/>
<circle cx="469.2" cy="1418.3" r="15.4"/>
<circle cx="508.9" cy="1209.4" r="15.4"/>
<circle cx="576.4" cy="1210.2" r="15.4"/>
<circle cx="633.6" cy="1124.6" r="15.4"/>
<circle cx="479.7" cy="1413.6" r="15.4"/>
<circle cx="558.0" cy="1317.5" r="15.4"/>
<circle cx="673.1" cy="1138.7" r="15.4"/>
<circle cx="583.7" cy="1206.8" r="15.4"/>
<circle cx="434.2" cy="1248.6" r="15.4"/>
<circle cx="601.7" cy="1288.0" r="15.4"/>
<circle cx="605.2" cy="1142.3" r="15.4"/>
<circle cx="459.8" cy="1426.2" r="15.4"/>
<circle cx="547.7" cy="1212.3" r="15.4"/>
<circle cx="463.1" cy="1269.1" r="15.4"/>
<circle cx="327.9" cy="1462.8" r="15.4"/>
<circle cx="575.2" cy="1195.7" r="15.4"/>
<circle cx="636.3" cy="1161.0" r="15.4"/>
<circle cx="655.3" cy="1175.8" r="15.4"/>
<circle cx="370.3" cy="1458.7" r="15.4"/>
<circle cx="509.8" cy="1378.2" r="15.4"/>
<circle cx="417.7" cy="1426.5" r="15.4"/>
<circle cx="323.2" cy="1467.5" r="15.4"/>
<circle cx="290.3" cy="1434.7" r="15.4"/>
<circle cx="562.9" cy="1308.1" r="15.4"/>
<circle cx="326.1" cy="1468.7" r="15.4"/>
<circle cx="288.9" cy="1435.0" r="15.4"/>
<circle cx="344.7" cy="1367.8" r="15.4"/>
<circle cx="570.0" cy="1152.0" r="15.4"/>
<circle cx="436.2" cy="1410.4" r="15.4"/>
<circle cx="294.9" cy="1413.2" r="15.4"/>
<circle cx="679.8" cy="1132.3" r="15.4"/>
<circle cx="313.7" cy="1441.8" r="15.4"/>
<circle cx="280.9" cy="1414.9" r="15.4"/>
<circle cx="587.2" cy="1154.6" r="15.4"/>
<circle cx="547.7" cy="1323.9" r="15.4"/>
<circle cx="614.4" cy="1250.8" r="15.4"/>
<circle cx="410.2" cy="1309.3" r="15.4"/>
<circle cx="556.4" cy="1154.2" r="15.4"/>
<circle cx="339.6" cy="1443.9" r="15.4"/>
<circle cx="615.3" cy="1159.4" r="15.4"/>
<circle cx="606.6" cy="1295.7" r="15.4"/>
<circle cx="285.8" cy="1420.7" r="15.4"/>
<circle cx="557.1" cy="1170.1" r="15.4"/>
<circle cx="589.9" cy="1202.6" r="15.4"/>
<circle cx="301.6" cy="1423.7" r="15.4"/>
<circle cx="329.7" cy="1446.9" r="15.4"/>
<circle cx="629.7" cy="1185.8" r="15.4"/>
<circle cx="527.8" cy="1191.4" r="15.4"/>
<circle cx="380.2" cy="1317.8" r="15.4"/>
<circle cx="470.1" cy="1416.6" r="15.4"/>
<circle cx="612.6" cy="1227.9" r="15.4"/>
<circle cx="419.1" cy="1304.5" r="15.4"/>
<circle cx="276.7" cy="1383.9" r="15.4"/>
<circle cx="308.2" cy="1466.4" r="15.4"/>
<circle cx="287.4" cy="1452.3" r="15.4"/>
<circle cx="553.1" cy="1141.3" r="15.4"/>
<circle cx="507.5" cy="1338.5" r="15.4"/>
<circle cx="427.3" cy="1312.8" r="15.4"/>
<circle cx="502.2" cy="1385.9" r="15.4"/>
<circle cx="472.7" cy="1249.5" r="15.4"/>
<circle cx="297.5" cy="1386.1" r="15.4"/>
<circle cx="301.6" cy="1460.3" r="15.4"/>
<circle cx="271.1" cy="1394.8" r="15.4"/>
<circle cx="527.2" cy="1223.5" r="15.4"/>
<circle cx="458.8" cy="1278.2" r="15.4"/>
<circle cx="303.2" cy="1437.4" r="15.4"/>
<circle cx="581.7" cy="1304.6" r="15.4"/>
<circle cx="286.3" cy="1411.0" r="15.4"/>
<circle cx="671.5" cy="1145.1" r="15.4"/>
<circle cx="314.0" cy="1441.9" r="15.4"/>
<circle cx="362.2" cy="1343.9" r="15.4"/>
<circle cx="581.5" cy="1306.5" r="15.4"/>
<circle cx="605.9" cy="1275.1" r="15.4"/>
<circle cx="319.4" cy="1398.2" r="15.4"/>
<circle cx="494.8" cy="1397.6" r="15.4"/>
<circle cx="445.1" cy="1269.4" r="15.4"/>
<circle cx="490.6" cy="1381.5" r="15.4"/>
<circle cx="630.7" cy="1261.7" r="15.4"/>
<circle cx="547.9" cy="1187.7" r="15.4"/>
<circle cx="586.7" cy="1138.3" r="15.4"/>
<circle cx="479.2" cy="1420.0" r="15.4"/>
<circle cx="519.9" cy="1326.0" r="15.4"/>
<circle cx="512.4" cy="1374.1" r="15.4"/>
<circle cx="639.4" cy="1238.7" r="15.4"/>
<circle cx="459.6" cy="1259.0" r="15.4"/>
<circle cx="564.5" cy="1170.4" r="15.4"/>
<circle cx="514.8" cy="1232.3" r="15.4"/>
<circle cx="593.5" cy="1208.3" r="15.4"/>
<circle cx="561.9" cy="1155.8" r="15.4"/>
<circle cx="407.9" cy="1305.8" r="15.4"/>
<circle cx="618.1" cy="1250.1" r="15.4"/>
<circle cx="447.9" cy="1395.8" r="15.4"/>
<circle cx="578.6" cy="1120.9" r="15.4"/>
<circle cx="500.1" cy="1358.6" r="15.4"/>
<circle cx="418.3" cy="1328.4" r="15.4"/>
<circle cx="407.8" cy="1303.3" r="15.4"/>
<circle cx="567.7" cy="1148.1" r="15.4"/>
<circle cx="669.2" cy="1146.2" r="15.4"/>
<circle cx="376.3" cy="1322.7" r="15.4"/>
<circle cx="557.1" cy="1160.2" r="15.4"/>
<circle cx="573.8" cy="1186.8" r="15.4"/>
<circle cx="389.0" cy="1463.9" r="15.4"/>
<circle cx="591.8" cy="1185.1" r="15.4"/>
<circle cx="277.3" cy="1417.4" r="15.4"/>
<circle cx="568.9" cy="1310.4" r="15.4"/>
<circle cx="302.1" cy="1402.5" r="15.4"/>
<circle cx="417.1" cy="1293.7" r="15.4"/>
<circle cx="436.6" cy="1235.6" r="15.4"/>
<circle cx="588.9" cy="1169.9" r="15.4"/>
<circle cx="606.6" cy="1221.8" r="15.4"/>
<circle cx="640.4" cy="1127.8" r="15.4"/>
<circle cx="369.1" cy="1320.0" r="15.4"/>
<circle cx="383.6" cy="1324.1" r="15.4"/>
<circle cx="492.0" cy="1228.7" r="15.4"/>
<circle cx="511.6" cy="1240.3" r="15.4"/>
<circle cx="483.9" cy="1368.0" r="15.4"/>
<circle cx="410.7" cy="1321.5" r="15.4"/>
<circle cx="351.4" cy="1456.7" r="15.4"/>
<circle cx="279.5" cy="1397.8" r="15.4"/>
<circle cx="401.0" cy="1431.8" r="15.4"/>
<circle cx="654.1" cy="1173.9" r="15.4"/>
<circle cx="517.1" cy="1196.9" r="15.4"/>
<circle cx="517.8" cy="1352.1" r="15.4"/>
<circle cx="285.2" cy="1376.6" r="15.4"/>
<circle cx="278.8" cy="1399.5" r="15.4"/>
<circle cx="404.5" cy="1450.9" r="15.4"/>
<circle cx="624.0" cy="1105.5" r="15.4"/>
<circle cx="356.9" cy="1469.2" r="15.4"/>
<circle cx="297.9" cy="1440.3" r="15.4"/>
<circle cx="419.4" cy="1469.6" r="15.4"/>
<circle cx="292.9" cy="1423.9" r="15.4"/>
<circle cx="315.8" cy="1393.7" r="15.4"/>
<circle cx="569.2" cy="1200.8" r="15.4"/>
<circle cx="647.4" cy="1183.1" r="15.4"/>
<circle cx="519.3" cy="1234.3" r="15.4"/>
<circle cx="600.6" cy="1147.6" r="15.4"/>
<circle cx="457.3" cy="1236.6" r="15.4"/>
<circle cx="584.2" cy="1119.0" r="15.4"/>
<circle cx="604.2" cy="1117.0" r="15.4"/>
<circle cx="668.4" cy="1160.2" r="15.4"/>
<circle cx="511.4" cy="1219.9" r="15.4"/>
<circle cx="554.9" cy="1306.8" r="15.4"/>
<circle cx="358.5" cy="1309.5" r="15.4"/>
<circle cx="623.0" cy="1294.0" r="15.4"/>
<circle cx="519.5" cy="1228.0" r="15.4"/>
<circle cx="474.0" cy="1418.2" r="15.4"/>
<circle cx="351.4" cy="1468.6" r="15.4"/>
<circle cx="613.0" cy="1218.4" r="15.4"/>
<circle cx="293.1" cy="1416.4" r="15.4"/>
<circle cx="595.0" cy="1299.5" r="15.4"/>
<circle cx="529.0" cy="1206.4" r="15.4"/>
<circle cx="409.6" cy="1435.7" r="15.4"/>
<circle cx="596.1" cy="1267.7" r="15.4"/>
<circle cx="556.6" cy="1174.2" r="15.4"/>
<circle cx="346.5" cy="1455.1" r="15.4"/>
<circle cx="625.2" cy="1227.6" r="15.4"/>
<circle cx="459.3" cy="1257.8" r="15.4"/>
<circle cx="566.1" cy="1198.1" r="15.4"/>
<circle cx="435.0" cy="1232.1" r="15.4"/>
<circle cx="523.0" cy="1234.7" r="15.4"/>
<circle cx="357.5" cy="1304.6" r="15.4"/>
<circle cx="492.9" cy="1226.9" r="15.4"/>
<circle cx="549.2" cy="1304.7" r="15.4"/>
<circle cx="655.8" cy="1102.5" r="15.4"/>
<circle cx="548.2" cy="1209.1" r="15.4"/>
<circle cx="654.1" cy="1101.2" r="15.4"/>
<circle cx="581.1" cy="1163.1" r="15.4"/>
<circle cx="591.9" cy="1157.8" r="15.4"/>
<circle cx="320.6" cy="1452.6" r="15.4"/>
<circle cx="357.1" cy="1469.8" r="15.4"/>
<circle cx="342.6" cy="1470.2" r="15.4"/>
<circle cx="629.9" cy="1177.3" r="15.4"/>
<circle cx="387.4" cy="1474.5" r="15.4"/>
<circle cx="530.9" cy="1191.3" r="15.4"/>
<circle cx="516.6" cy="1340.5" r="15.4"/>
<circle cx="545.0" cy="1338.7" r="15.4"/>
<circle cx="587.7" cy="1183.7" r="15.4"/>
<circle cx="505.7" cy="1208.7" r="15.4"/>
<circle cx="479.8" cy="1229.6" r="15.4"/>
<circle cx="382.4" cy="1340.9" r="15.4"/>
<circle cx="296.1" cy="1387.9" r="15.4"/>
<circle cx="548.1" cy="1305.7" r="15.4"/>
<circle cx="635.7" cy="1251.3" r="15.4"/>
<circle cx="474.8" cy="1233.2" r="15.4"/>
<circle cx="514.1" cy="1349.2" r="15.4"/>
<circle cx="444.7" cy="1239.8" r="15.4"/>
<circle cx="542.1" cy="1202.1" r="15.4"/>
<circle cx="318.6" cy="1393.5" r="15.4"/>
<circle cx="441.3" cy="1243.6" r="15.4"/>
<circle cx="634.8" cy="1143.0" r="15.4"/>
<circle cx="542.5" cy="1316.8" r="15.4"/>
<circle cx="330.5" cy="1348.3" r="15.4"/>
<circle cx="556.1" cy="1304.0" r="15.4"/>
<circle cx="529.7" cy="1338.2" r="15.4"/>
<circle cx="324.0" cy="1387.2" r="15.4"/>
<circle cx="347.8" cy="1456.2" r="15.4"/>
<circle cx="447.6" cy="1430.5" r="15.4"/>
<circle cx="288.3" cy="1436.3" r="15.4"/>
<circle cx="564.3" cy="1140.4" r="15.4"/>
<circle cx="565.3" cy="1141.1" r="15.4"/>
<circle cx="394.4" cy="1464.0" r="15.4"/>
<circle cx="534.3" cy="1363.4" r="15.4"/>
<circle cx="442.7" cy="1261.7" r="15.4"/>
<circle cx="407.4" cy="1436.3" r="15.4"/>
<circle cx="579.9" cy="1124.5" r="15.4"/>
<circle cx="368.1" cy="1319.3" r="15.4"/>
<circle cx="438.0" cy="1411.2" r="15.4"/>
<circle cx="638.7" cy="1169.0" r="15.4"/>
<circle cx="509.3" cy="1225.6" r="15.4"/>
<circle cx="294.5" cy="1377.2" r="15.4"/>
<circle cx="623.2" cy="1252.0" r="15.4"/>
<circle cx="474.8" cy="1375.1" r="15.4"/>
<circle cx="447.0" cy="1286.8" r="15.4"/>
<circle cx="536.2" cy="1314.4" r="15.4"/>
<circle cx="393.4" cy="1458.7" r="15.4"/>
<circle cx="666.1" cy="1161.9" r="15.4"/>
<circle cx="556.7" cy="1329.4" r="15.4"/>
<circle cx="617.6" cy="1280.0" r="15.4"/>
<circle cx="437.5" cy="1307.7" r="15.4"/>
<circle cx="333.9" cy="1363.8" r="15.4"/>
<circle cx="417.1" cy="1462.6" r="15.4"/>
<circle cx="468.2" cy="1404.2" r="15.4"/>
<circle cx="358.1" cy="1476.7" r="15.4"/>
<circle cx="592.9" cy="1142.4" r="15.4"/>
<circle cx="565.4" cy="1156.2" r="15.4"/>
<circle cx="414.9" cy="1432.3" r="15.4"/>
<circle cx="613.1" cy="1159.3" r="15.4"/>
<circle cx="676.8" cy="1137.2" r="15.4"/>
<circle cx="304.3" cy="1414.4" r="15.4"/>
<circle cx="539.4" cy="1349.6" r="15.4"/>
<circle cx="518.4" cy="1190.6" r="15.4"/>
<circle cx="587.7" cy="1174.7" r="15.4"/>
<circle cx="322.2" cy="1376.2" r="15.4"/>
<circle cx="746.5" cy="1238.5" r="15.4"/>
<circle cx="789.6" cy="1088.9" r="15.4"/>
<circle cx="722.7" cy="1120.7" r="15.4"/>
<circle cx="734.3" cy="1198.6" r="15.4"/>
<circle cx="693.3" cy="1280.1" r="15.4"/>
<circle cx="768.7" cy="1100.0" r="15.4"/>
<circle cx="773.6" cy="1095.0" r="15.4"/>
<circle cx="745.7" cy="1092.2" r="15.4"/>
<circle cx="694.8" cy="1290.8" r="15.4"/>
<circle cx="733.6" cy="1223.3" r="15.4"/>
<circle cx="681.7" cy="1286.0" r="15.4"/>
<circle cx="788.5" cy="1133.1" r="15.4"/>
<circle cx="706.0" cy="1101.5" r="15.4"/>
<circle cx="696.7" cy="1205.5" r="15.4"/>
<circle cx="702.4" cy="1135.8" r="15.4"/>
<circle cx="698.9" cy="1176.5" r="15.4"/>
<circle cx="759.2" cy="1075.6" r="15.4"/>
<circle cx="706.8" cy="1199.7" r="15.4"/>
<circle cx="678.0" cy="1289.3" r="15.4"/>
<circle cx="680.5" cy="1241.9" r="15.4"/>
<circle cx="703.4" cy="1146.4" r="15.4"/>
<circle cx="731.3" cy="1246.6" r="15.4"/>
<circle cx="666.7" cy="1240.1" r="15.4"/>
<circle cx="702.7" cy="1282.0" r="15.4"/>
<circle cx="734.5" cy="1136.4" r="15.4"/>
<circle cx="699.1" cy="1104.2" r="15.4"/>
<circle cx="712.9" cy="1118.5" r="15.4"/>
<circle cx="720.6" cy="1162.4" r="15.4"/>
<circle cx="658.6" cy="1280.0" r="15.4"/>
<circle cx="780.0" cy="1093.1" r="15.4"/>
<circle cx="673.1" cy="1263.0" r="15.4"/>
<circle cx="695.7" cy="1169.9" r="15.4"/>
<circle cx="725.7" cy="1235.6" r="15.4"/>
<circle cx="724.3" cy="1131.3" r="15.4"/>
<circle cx="712.6" cy="1096.9" r="15.4"/>
<circle cx="727.4" cy="1142.6" r="15.4"/>
<circle cx="706.0" cy="1249.1" r="15.4"/>
<circle cx="706.3" cy="1229.7" r="15.4"/>
<circle cx="693.5" cy="1177.6" r="15.4"/>
<circle cx="695.5" cy="1287.0" r="15.4"/>
<circle cx="750.7" cy="1200.2" r="15.4"/>
<circle cx="688.9" cy="1221.9" r="15.4"/>
<circle cx="721.8" cy="1256.4" r="15.4"/>
<circle cx="703.9" cy="1215.3" r="15.4"/>
<circle cx="704.3" cy="1262.6" r="15.4"/>
<circle cx="730.3" cy="1188.0" r="15.4"/>
<circle cx="675.8" cy="1261.1" r="15.4"/>
<circle cx="492.6" cy="1189.8" r="15.4"/>
<circle cx="475.2" cy="1193.8" r="15.4"/>
<circle cx="554.3" cy="1144.6" r="15.4"/>
<circle cx="521.1" cy="1178.6" r="15.4"/>
<circle cx="461.4" cy="1162.3" r="15.4"/>
<circle cx="567.3" cy="1125.7" r="15.4"/>
<circle cx="574.1" cy="1134.6" r="15.4"/>
<circle cx="444.1" cy="1193.6" r="15.4"/>
<circle cx="567.2" cy="1148.5" r="15.4"/>
<circle cx="537.8" cy="1129.0" r="15.4"/>
<circle cx="462.8" cy="1175.2" r="15.4"/>
<circle cx="539.5" cy="1180.6" r="15.4"/>
<circle cx="532.1" cy="1130.6" r="15.4"/>
<circle cx="448.2" cy="1176.2" r="15.4"/>
<circle cx="464.3" cy="1201.9" r="15.4"/>
<circle cx="485.6" cy="1206.9" r="15.4"/>
<circle cx="535.3" cy="1130.9" r="15.4"/>
<circle cx="557.1" cy="1142.5" r="15.4"/>
<circle cx="565.7" cy="1157.6" r="15.4"/>
<circle cx="509.5" cy="1181.6" r="15.4"/>
<circle cx="557.1" cy="1125.8" r="15.4"/>
<circle cx="449.4" cy="1166.9" r="15.4"/>
<circle cx="567.2" cy="1133.1" r="15.4"/>
<circle cx="587.7" cy="1139.8" r="15.4"/>
<circle cx="532.3" cy="1132.7" r="15.4"/>
<circle cx="496.9" cy="1154.0" r="15.4"/>
<circle cx="447.4" cy="1183.3" r="15.4"/>
<circle cx="575.7" cy="1099.9" r="15.4"/>
<circle cx="461.3" cy="1212.3" r="15.4"/>
<circle cx="534.1" cy="1145.6" r="15.4"/>
<circle cx="513.1" cy="1151.6" r="15.4"/>
<circle cx="453.1" cy="1171.5" r="15.4"/>
<circle cx="446.2" cy="1174.0" r="15.4"/>
<circle cx="536.9" cy="1181.1" r="15.4"/>
<circle cx="450.0" cy="1197.7" r="15.4"/>
<circle cx="582.5" cy="1149.4" r="15.4"/>
<circle cx="451.7" cy="1211.8" r="15.4"/>
<circle cx="585.2" cy="1148.0" r="15.4"/>
<circle cx="562.7" cy="1148.8" r="15.4"/>
<circle cx="475.8" cy="1182.5" r="15.4"/>
<circle cx="439.0" cy="1193.6" r="15.4"/>
<circle cx="590.6" cy="1102.6" r="15.4"/>
<circle cx="576.4" cy="1127.5" r="15.4"/>
<circle cx="442.8" cy="1195.7" r="15.4"/>
<circle cx="538.5" cy="1160.0" r="15.4"/>
<circle cx="522.7" cy="1150.9" r="15.4"/>
<circle cx="454.1" cy="1164.2" r="15.4"/>
<circle cx="466.3" cy="1163.6" r="15.4"/>
<circle cx="585.5" cy="1145.2" r="15.4"/>
<circle cx="469.6" cy="1164.7" r="15.4"/>
<circle cx="564.1" cy="1164.3" r="15.4"/>
<circle cx="523.3" cy="1176.1" r="15.4"/>
<circle cx="551.9" cy="1173.9" r="15.4"/>
<circle cx="567.3" cy="1139.3" r="15.4"/>
<circle cx="456.4" cy="1171.4" r="15.4"/>
<circle cx="447.8" cy="1182.3" r="15.4"/>
<circle cx="372.9" cy="1254.6" r="15.4"/>
<circle cx="426.8" cy="1210.8" r="15.4"/>
<circle cx="410.9" cy="1241.2" r="15.4"/>
<circle cx="336.6" cy="1307.0" r="15.4"/>
<circle cx="381.3" cy="1251.5" r="15.4"/>
<circle cx="386.9" cy="1258.4" r="15.4"/>
<circle cx="337.4" cy="1278.2" r="15.4"/>
<circle cx="393.5" cy="1241.0" r="15.4"/>
<circle cx="427.3" cy="1219.8" r="15.4"/>
<circle cx="1649.6" cy="235.4" r="15.4"/>
<circle cx="1478.1" cy="360.5" r="15.4"/>
<circle cx="1412.9" cy="446.5" r="15.4"/>
<circle cx="1420.6" cy="468.4" r="15.4"/>
<circle cx="1554.1" cy="544.1" r="15.4"/>
<circle cx="1690.7" cy="608.3" r="15.4"/>
<circle cx="1127.8" cy="638.9" r="15.4"/>
<circle cx="1069.5" cy="665.8" r="15.4"/>
<circle cx="1142.4" cy="673.2" r="15.4"/>
<circle cx="1016.3" cy="692.4" r="15.4"/>
<circle cx="993.1" cy="779.9" r="15.4"/>
<circle cx="966.5" cy="814.1" r="15.4"/>
<circle cx="1077.2" cy="829.6" r="15.4"/>
<circle cx="1046.1" cy="877.6" r="15.4"/>
<circle cx="1233.6" cy="886.4" r="15.4"/>
<circle cx="966.5" cy="916.5" r="15.4"/>
<circle cx="1092.8" cy="932.5" r="15.4"/>
<circle cx="962.9" cy="1004.4" r="15.4"/>
<circle cx="1058.0" cy="1012.6" r="15.4"/>
<circle cx="764.0" cy="776.0" r="15.4"/>
<circle cx="924.4" cy="810.3" r="15.4"/>
<circle cx="885.0" cy="834.0" r="15.4"/>
<circle cx="888.0" cy="837.0" r="15.4"/>
<circle cx="920.7" cy="856.3" r="15.4"/>
<circle cx="848.1" cy="860.0" r="15.4"/>
<circle cx="879.0" cy="924.4" r="15.4"/>
<circle cx="703.2" cy="936.4" r="15.4"/>
<circle cx="802.3" cy="947.5" r="15.4"/>
<circle cx="942.5" cy="939.7" r="15.4"/>
<circle cx="847.8" cy="953.4" r="15.4"/>
<circle cx="869.8" cy="962.3" r="15.4"/>
<circle cx="847.8" cy="969.2" r="15.4"/>
<circle cx="879.4" cy="985.0" r="15.4"/>
<circle cx="842.3" cy="1004.2" r="15.4"/>
<circle cx="935.0" cy="1031.0" r="15.4"/>
<circle cx="801.2" cy="1043.3" r="15.4"/>
<circle cx="825.9" cy="1079.0" r="15.4"/>
<circle cx="825.9" cy="1099.6" r="15.4"/>
<circle cx="893.8" cy="1066.6" r="15.4"/>
<circle cx="904.0" cy="1039.2" r="15.4"/>
<circle cx="880.8" cy="1042.0" r="15.4"/>
<circle cx="535.2" cy="959.2" r="15.4"/>
<circle cx="611.5" cy="1004.6" r="15.4"/>
<circle cx="671.5" cy="1049.2" r="15.4"/>
<circle cx="699.8" cy="1054.4" r="15.4"/>
<circle cx="735.0" cy="1030.4" r="15.4"/>
<circle cx="738.4" cy="1039.0" r="15.4"/>
<circle cx="669.0" cy="1073.2" r="15.4"/>
<circle cx="588.3" cy="1095.5" r="15.4"/>
<circle cx="731.0" cy="1075.5" r="15.4"/>
<circle cx="756.2" cy="1077.8" r="15.4"/>
<circle cx="801.9" cy="1114.4" r="15.4"/>
<circle cx="795.1" cy="1155.5" r="15.4"/>
<circle cx="753.9" cy="1183.0" r="15.4"/>
<circle cx="740.2" cy="1212.7" r="15.4"/>
<circle cx="719.6" cy="1244.7" r="15.4"/>
<circle cx="685.3" cy="1263.0" r="15.4"/>
<circle cx="717.3" cy="1265.3" r="15.4"/>
<circle cx="726.5" cy="1290.5" r="15.4"/>
<circle cx="694.4" cy="1098.3" r="15.4"/>
<circle cx="535.5" cy="1129.2" r="15.4"/>
<circle cx="465.7" cy="1170.4" r="15.4"/>
<circle cx="476.0" cy="1183.0" r="15.4"/>
<circle cx="924.1" cy="1168.9" r="15.4"/>
<circle cx="740.0" cy="1217.7" r="15.4"/>
<circle cx="725.6" cy="1294.5" r="15.4"/>
<circle cx="736.8" cy="1156.8" r="15.4"/>
<circle cx="720.8" cy="1182.5" r="15.4"/>
<circle cx="732.0" cy="1211.3" r="15.4"/>
<circle cx="709.6" cy="1221.0" r="15.4"/>
<circle cx="672.9" cy="1351.7" r="15.4"/>
<circle cx="651.3" cy="1295.6" r="15.4"/>
<circle cx="584.9" cy="1366.0" r="15.4"/>
<circle cx="590.5" cy="1335.7" r="15.4"/>
<circle cx="528.0" cy="1391.7" r="15.4"/>
<circle cx="494.4" cy="1436.5" r="15.4"/>
<circle cx="669.0" cy="1239.6" r="15.4"/>
<circle cx="245.7" cy="1386.5" r="15.4"/>
<circle cx="220.0" cy="1416.7" r="15.4"/>
<circle cx="207.3" cy="1413.0" r="15.4"/>
<circle cx="344.5" cy="1511.8" r="15.4"/>
<circle cx="313.4" cy="1533.8" r="15.4"/>
<circle cx="326.0" cy="1500.9" r="15.4"/>
<circle cx="383.0" cy="1491.7" r="15.4"/>
<circle cx="401.0" cy="1490.0" r="15.4"/>
<circle cx="425.0" cy="1480.7" r="15.4"/>
<circle cx="352.1" cy="1222.0" r="15.4"/>
<circle cx="344.9" cy="1267.7" r="15.4"/>
<circle cx="267.2" cy="1302.1" r="15.4"/>
<circle cx="304.0" cy="1306.0" r="15.4"/>
<circle cx="267.2" cy="1339.0" r="15.4"/>
<circle cx="296.0" cy="1326.0" r="15.4"/>
<circle cx="394.5" cy="1241.3" r="15.4"/>
<circle cx="392.0" cy="1267.0" r="15.4"/>
<circle cx="472.0" cy="1179.0" r="15.4"/>
<circle cx="227.2" cy="1409.4" r="15.4"/>
<circle cx="275.0" cy="1363.0" r="15.4"/>
<circle cx="665.8" cy="1048.0" r="15.4"/>
<circle cx="521.7" cy="1148.9" r="15.4"/>
<circle cx="560.0" cy="1155.0" r="15.4"/>
<circle cx="577.7" cy="1136.0" r="15.4"/>
<circle cx="512.0" cy="1168.0" r="15.4"/>
<circle cx="536.0" cy="1168.0" r="15.4"/>
<circle cx="277.8" cy="1355.0" r="15.4"/>
<circle cx="213.7" cy="1417.8" r="15.4"/>
<circle cx="230.9" cy="1417.8" r="15.4"/>
<circle cx="387.5" cy="1271.4" r="15.4"/>
<circle cx="325.8" cy="1294.3" r="15.4"/>
<circle cx="371.5" cy="1292.0" r="15.4"/>
<circle cx="611.3" cy="1009.0" r="15.4"/>
<circle cx="735.8" cy="1078.7" r="15.4"/>
<circle cx="787.0" cy="1069.5" r="15.4"/>
<circle cx="723.0" cy="1102.4" r="15.4"/>
<circle cx="695.5" cy="1104.3" r="15.4"/>
<circle cx="669.9" cy="1104.3" r="15.4"/>
<circle cx="766.9" cy="1151.8" r="15.4"/>
<circle cx="715.6" cy="1179.3" r="15.4"/>
<circle cx="704.7" cy="1206.7" r="15.4"/>
<circle cx="673.5" cy="1205.0" r="15.4"/>
<circle cx="684.5" cy="1237.8" r="15.4"/>
<circle cx="715.6" cy="1261.6" r="15.4"/>
<circle cx="582.0" cy="1131.7" r="15.4"/>
<circle cx="543.7" cy="1128.0" r="15.4"/>
</g>
<rect x="214.9" y="94.5" width="1476.9" height="1482.5" fill="none" stroke="#111" stroke-width="3.6"/>
<path d="M363.6,1577.0V1562.2M363.6,94.5V109.3M670.1,1577.0V1562.2M670.1,94.5V109.3M976.7,1577.0V1562.2M976.7,94.5V109.3M1283.2,1577.0V1562.2M1283.2,94.5V109.3M1589.8,1577.0V1562.2M1589.8,94.5V109.3M214.9,1423.6H229.7M1691.8,1423.6H1677.0M214.9,1271.6H229.7M1691.8,1271.6H1677.0M214.9,1119.3H229.7M1691.8,1119.3H1677.0M214.9,966.3H229.7M1691.8,966.3H1677.0M214.9,810.5H229.7M1691.8,810.5H1677.0M214.9,657.0H229.7M1691.8,657.0H1677.0M214.9,506.0H229.7M1691.8,506.0H1677.0M214.9,353.0H229.7M1691.8,353.0H1677.0M214.9,201.0H229.7M1691.8,201.0H1677.0" stroke="#111" stroke-width="3.4" fill="none"/>
<g font-family="Liberation Sans, Arial, Helvetica, sans-serif" font-size="64" fill="#1a1a1a" stroke="#fff" stroke-width="1.2"><text transform="translate(364.1,1662.8) scale(0.93,1)" text-anchor="middle">0</text><text transform="translate(670.6,1662.8) scale(0.93,1)" text-anchor="middle">0.2</text><text transform="translate(977.2,1662.8) scale(0.93,1)" text-anchor="middle">0.4</text><text transform="translate(1283.7,1662.8) scale(0.93,1)" text-anchor="middle">0.6</text><text transform="translate(1590.3,1662.8) scale(0.93,1)" text-anchor="middle">0.8</text><text transform="translate(186,1454.4) scale(0.93,1)" text-anchor="end">0</text><text transform="translate(186,1297.5) scale(0.93,1)" text-anchor="end">0.1</text><text transform="translate(186,1144.9) scale(0.93,1)" text-anchor="end">0.2</text><text transform="translate(186,992.6) scale(0.93,1)" text-anchor="end">0.3</text><text transform="translate(186,840.3) scale(0.93,1)" text-anchor="end">0.4</text><text transform="translate(186,687.5) scale(0.93,1)" text-anchor="end">0.5</text><text transform="translate(186,535.2) scale(0.93,1)" text-anchor="end">0.6</text><text transform="translate(186,378.6) scale(0.93,1)" text-anchor="end">0.7</text><text transform="translate(186,226.9) scale(0.93,1)" text-anchor="end">0.8</text></g>
<text x="386.4" y="1753.9" font-family="Liberation Sans, Arial, Helvetica, sans-serif" font-size="70" fill="#1a1a1a" stroke="#fff" stroke-width="0.6" textLength="1133.4" lengthAdjust="spacingAndGlyphs">Measurd Energy Consumption (kWh)</text>
<text transform="translate(72.5,1416.2) rotate(-90)" font-family="Liberation Sans, Arial, Helvetica, sans-serif" font-size="70" fill="#1a1a1a" stroke="#fff" stroke-width="0.6" textLength="1159.4" lengthAdjust="spacingAndGlyphs">Predicted Energy Consumption (kWh)</text>
<rect x="264.6" y="147.4" width="343.2" height="239.1" fill="#fff" stroke="#111" stroke-width="3.6"/>
<circle cx="371.2" cy="193" r="15.2" fill="none" stroke="#000" stroke-opacity="0.8" stroke-width="2.8"/>
<line x1="293.4" y1="269.6" x2="448.9" y2="269.6" stroke="#0808d8" stroke-width="8"/>
<path d="M288.6,339.9h3.2v3.2h-3.2zM303.9,339.9h3.2v3.2h-3.2zM320.3,339.9h3.2v3.2h-3.2zM335.1,339.9h3.2v3.2h-3.2zM351.0,339.9h3.2v3.2h-3.2zM365.8,339.9h3.2v3.2h-3.2zM380.6,339.9h3.2v3.2h-3.2zM396.4,339.9h3.2v3.2h-3.2zM411.3,339.9h3.2v3.2h-3.2zM427.2,339.9h3.2v3.2h-3.2zM442.0,339.9h3.2v3.2h-3.2z" fill="#333"/>
<g font-family="Liberation Sans, Arial, Helvetica, sans-serif" font-size="54" fill="#111" stroke="#fff" stroke-width="0.8">
<text x="461" y="213.6" textLength="104" lengthAdjust="spacingAndGlyphs">Test</text>
<text x="460.5" y="289.7" textLength="63" lengthAdjust="spacingAndGlyphs">Fit</text>
<text x="461" y="365.9">Y = X</text>
</g>
</svg>
</body></html>
